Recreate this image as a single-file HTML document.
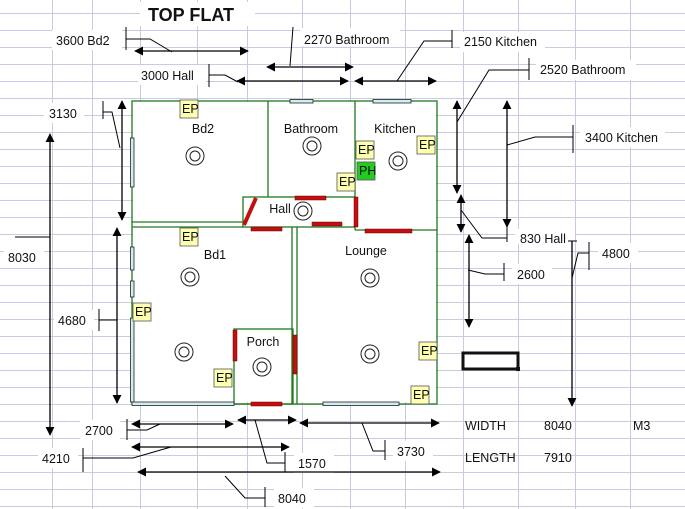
<!DOCTYPE html>
<html><head><meta charset="utf-8"><style>
html,body{margin:0;padding:0;background:#fff;}
svg{display:block;}
text{font-family:"Liberation Sans",Arial,sans-serif;font-size:12.5px;fill:#111;}
</style></head><body>
<svg width="685" height="509" viewBox="0 0 685 509" xmlns="http://www.w3.org/2000/svg">
<defs>
<marker id="a" viewBox="0 0 10 10" refX="9" refY="5" markerWidth="9" markerHeight="9" markerUnits="userSpaceOnUse" orient="auto-start-reverse"><path d="M0,0 L10,5 L0,10 z" fill="#000"/></marker>
</defs>
<g stroke="#c9cce0" stroke-width="1">
<line x1="0" y1="13.5" x2="685" y2="13.5"/><line x1="0" y1="30.5" x2="685" y2="30.5"/><line x1="0" y1="47.5" x2="685" y2="47.5"/><line x1="0" y1="64.5" x2="685" y2="64.5"/><line x1="0" y1="81.5" x2="685" y2="81.5"/><line x1="0" y1="98.5" x2="685" y2="98.5"/><line x1="0" y1="115.5" x2="685" y2="115.5"/><line x1="0" y1="132.5" x2="685" y2="132.5"/><line x1="0" y1="149.5" x2="685" y2="149.5"/><line x1="0" y1="166.5" x2="685" y2="166.5"/><line x1="0" y1="183.5" x2="685" y2="183.5"/><line x1="0" y1="200.5" x2="685" y2="200.5"/><line x1="0" y1="217.5" x2="685" y2="217.5"/><line x1="0" y1="234.5" x2="685" y2="234.5"/><line x1="0" y1="251.5" x2="685" y2="251.5"/><line x1="0" y1="268.5" x2="685" y2="268.5"/><line x1="0" y1="285.5" x2="685" y2="285.5"/><line x1="0" y1="302.5" x2="685" y2="302.5"/><line x1="0" y1="319.5" x2="685" y2="319.5"/><line x1="0" y1="336.5" x2="685" y2="336.5"/><line x1="0" y1="353.5" x2="685" y2="353.5"/><line x1="0" y1="370.5" x2="685" y2="370.5"/><line x1="0" y1="387.5" x2="685" y2="387.5"/><line x1="0" y1="404.5" x2="685" y2="404.5"/><line x1="0" y1="421.5" x2="685" y2="421.5"/><line x1="0" y1="438.5" x2="685" y2="438.5"/><line x1="0" y1="455.5" x2="685" y2="455.5"/><line x1="0" y1="472.5" x2="685" y2="472.5"/><line x1="0" y1="489.5" x2="685" y2="489.5"/><line x1="0" y1="506.5" x2="685" y2="506.5"/>
<line x1="52.5" y1="0" x2="52.5" y2="509"/><line x1="92.5" y1="0" x2="92.5" y2="509"/><line x1="140.5" y1="0" x2="140.5" y2="509"/><line x1="197.5" y1="0" x2="197.5" y2="509"/><line x1="247.5" y1="0" x2="247.5" y2="509"/><line x1="302.5" y1="0" x2="302.5" y2="509"/><line x1="350.5" y1="0" x2="350.5" y2="509"/><line x1="405.5" y1="0" x2="405.5" y2="509"/><line x1="463.5" y1="0" x2="463.5" y2="509"/><line x1="518.5" y1="0" x2="518.5" y2="509"/><line x1="575.5" y1="0" x2="575.5" y2="509"/><line x1="630.5" y1="0" x2="630.5" y2="509"/>
</g>
<!-- white label backgrounds -->
<g fill="#fff">
<rect x="140" y="2" width="115" height="24"/>
<rect x="52" y="30" width="70" height="20"/>
<rect x="300" y="28" width="100" height="18"/>
<rect x="460" y="32" width="85" height="20"/>
<rect x="138" y="65" width="68" height="20"/>
<rect x="536" y="60" width="100" height="20"/>
<rect x="44" y="103" width="40" height="20"/>
<rect x="580" y="127" width="85" height="20"/>
<rect x="515" y="229" width="60" height="15"/>
<rect x="598" y="243" width="40" height="20"/>
<rect x="512" y="264" width="40" height="20"/>
<rect x="4" y="247" width="40" height="20"/>
<rect x="54" y="310" width="40" height="20"/>
<rect x="80" y="420" width="40" height="20"/>
<rect x="38" y="448" width="40" height="20"/>
<rect x="294" y="453" width="40" height="20"/>
<rect x="393" y="441" width="40" height="20"/>
<rect x="274" y="488" width="40" height="20"/>
<rect x="133" y="102" width="303" height="300"/>
</g>
<text x="148" y="21" style="font-size:18px;font-weight:bold">TOP FLAT</text>
<!-- floor plan walls -->
<g stroke="#1e7a1e" stroke-width="1.3" fill="none">
<rect x="132" y="101" width="305" height="303"/>
<line x1="268" y1="101" x2="268" y2="197"/>
<line x1="355" y1="101" x2="355" y2="230"/>
<line x1="355" y1="230" x2="437" y2="230"/>
<line x1="132" y1="222" x2="243" y2="222"/>
<line x1="132" y1="227" x2="243" y2="227"/>
<rect x="243" y="197" width="112" height="30"/>
<line x1="292" y1="227" x2="292" y2="404"/>
<line x1="297" y1="227" x2="297" y2="404"/>
<rect x="234" y="329" width="59" height="75"/>
</g>
<!-- windows -->
<g fill="#cdeff2" stroke="#222" stroke-width="0.8">
<rect x="290" y="99.5" width="23" height="3.5"/>
<rect x="373" y="99.5" width="38" height="3.5"/>
<rect x="130.5" y="138" width="3.5" height="49"/>
<rect x="130.5" y="247" width="3.5" height="23"/>
<rect x="130.5" y="281" width="3.5" height="16"/>
<rect x="130.5" y="318" width="3.5" height="84"/>
<rect x="132" y="402" width="102" height="3.5"/>
<rect x="323" y="402" width="76" height="3.5"/>
</g>
<!-- doors -->
<g fill="#c01010" stroke="#700" stroke-width="0.5">
<rect x="295" y="196" width="31" height="4"/>
<rect x="312" y="222" width="30" height="4"/>
<rect x="251" y="227" width="31" height="4"/>
<rect x="354" y="197" width="4" height="30"/>
<rect x="365" y="229" width="47" height="4"/>
<rect x="233" y="330" width="4" height="31"/>
<rect x="293" y="335" width="4" height="39"/>
<rect x="251" y="402" width="31" height="4"/>
</g>
<line x1="244" y1="225" x2="256" y2="198" stroke="#c01010" stroke-width="4"/>
<!-- lights -->
<g fill="none" stroke="#222" stroke-width="1">
<circle cx="195" cy="156" r="9"/><circle cx="195" cy="156" r="5"/>
<circle cx="312" cy="146" r="9"/><circle cx="312" cy="146" r="5"/>
<circle cx="398" cy="161" r="9"/><circle cx="398" cy="161" r="5"/>
<circle cx="303" cy="211" r="9"/><circle cx="303" cy="211" r="5"/>
<circle cx="190" cy="277" r="9"/><circle cx="190" cy="277" r="5"/>
<circle cx="184" cy="352" r="9"/><circle cx="184" cy="352" r="5"/>
<circle cx="370" cy="278" r="9"/><circle cx="370" cy="278" r="5"/>
<circle cx="370" cy="354" r="9"/><circle cx="370" cy="354" r="5"/>
<circle cx="262" cy="367" r="9"/><circle cx="262" cy="367" r="5"/>
</g>
<!-- EP boxes -->
<g fill="#ffffb0" stroke="#555" stroke-width="0.8">
<rect x="180" y="100" width="18" height="18"/>
<rect x="180" y="228" width="18" height="18"/>
<rect x="133" y="303" width="18" height="18"/>
<rect x="214" y="369" width="18" height="18"/>
<rect x="356" y="141" width="18" height="18"/>
<rect x="337" y="173" width="18" height="18"/>
<rect x="417" y="136" width="18" height="18"/>
<rect x="419" y="342" width="18" height="18"/>
<rect x="411" y="386" width="18" height="18"/>
</g>
<rect x="357" y="162" width="18" height="18" fill="#22cc22" stroke="#555" stroke-width="0.8"/>
<g style="font-size:11px">
<text x="182" y="113">EP</text><text x="182" y="241">EP</text><text x="135" y="316">EP</text><text x="216" y="382">EP</text>
<text x="358" y="154">EP</text><text x="339" y="186">EP</text><text x="419" y="149">EP</text><text x="421" y="355">EP</text><text x="413" y="399">EP</text>
<text x="359" y="175">PH</text>
</g>
<g text-anchor="middle">
<text x="203" y="133">Bd2</text><text x="311" y="133">Bathroom</text><text x="395" y="133">Kitchen</text>
<text x="280" y="213">Hall</text><text x="215" y="259">Bd1</text><text x="366" y="255">Lounge</text><text x="263" y="346">Porch</text>
</g>
<!-- dimension arrows -->
<g stroke="#000" stroke-width="1.3" marker-start="url(#a)" marker-end="url(#a)">
<line x1="135" y1="51" x2="248" y2="51"/>
<line x1="267" y1="67" x2="353" y2="67"/>
<line x1="237" y1="81" x2="348" y2="81"/>
<line x1="355" y1="81" x2="436" y2="81"/>
<line x1="122" y1="101" x2="122" y2="220"/>
<line x1="50" y1="134" x2="50" y2="435"/>
<line x1="117" y1="228" x2="117" y2="403"/>
<line x1="457" y1="101" x2="457" y2="193"/>
<line x1="507" y1="101" x2="507" y2="227"/>
<line x1="461" y1="195" x2="461" y2="232"/>
<line x1="469" y1="235" x2="469" y2="327"/>
<line x1="132" y1="424" x2="233" y2="424"/>
<line x1="238" y1="420" x2="296" y2="420"/>
<line x1="300" y1="423" x2="439" y2="423"/>
<line x1="132" y1="447" x2="289" y2="447"/>
<line x1="138" y1="472" x2="440" y2="472"/>
</g>
<line x1="572" y1="241" x2="572" y2="406" stroke="#000" stroke-width="1.3" marker-end="url(#a)"/>
<line x1="568" y1="241" x2="577" y2="241" stroke="#000" stroke-width="1"/>
<!-- leaders -->
<g stroke="#000" stroke-width="1" fill="none">
<line x1="126" y1="27" x2="126" y2="50"/><polyline points="126,39 150,39 172,52"/>
<line x1="293" y1="27" x2="290" y2="66"/>
<line x1="452" y1="30" x2="452" y2="48"/><polyline points="452,41 424,41 397,81"/>
<line x1="209" y1="64" x2="209" y2="87"/><polyline points="209,75 225,75 238,82"/>
<line x1="529" y1="58" x2="529" y2="80"/><polyline points="529,70 489,70 457,122"/>
<line x1="103" y1="101" x2="103" y2="119"/><polyline points="103,112 112,112 120,148"/>
<line x1="15" y1="237" x2="50" y2="237"/>
<line x1="99" y1="309" x2="99" y2="331"/><line x1="99" y1="320" x2="117" y2="320"/>
<line x1="573" y1="125" x2="573" y2="153"/><polyline points="573,137 535,137 507,145"/>
<line x1="507" y1="227" x2="507" y2="242"/><polyline points="461,210 482,238 507,238"/>
<line x1="504" y1="263" x2="504" y2="281"/><polyline points="468,270 485,274 504,274"/>
<line x1="589" y1="242" x2="589" y2="270"/><polyline points="572,278 578,253 589,253"/>
<line x1="127" y1="419" x2="127" y2="440"/><polyline points="127,430 147,430 160,424"/>
<line x1="285" y1="452" x2="285" y2="472"/><polyline points="255,420 267,463 285,463"/>
<line x1="385" y1="440" x2="385" y2="460"/><polyline points="362,423 373,451 385,451"/>
<line x1="83" y1="448" x2="83" y2="472"/><polyline points="83,458 133,458 171,447"/>
<line x1="265" y1="487" x2="265" y2="507"/><polyline points="225,476 245,498 265,498"/>
</g>
<rect x="463" y="353" width="55" height="16" fill="none" stroke="#111" stroke-width="3"/>
<rect x="516" y="367" width="4" height="4" fill="#111"/>
<!-- labels -->
<text x="56" y="45">3600 Bd2</text>
<text x="304" y="44">2270 Bathroom</text>
<text x="464" y="46">2150 Kitchen</text>
<text x="141" y="80">3000 Hall</text>
<text x="540" y="74">2520 Bathroom</text>
<text x="49" y="118">3130</text>
<text x="585" y="142">3400 Kitchen</text>
<text x="520" y="243">830 Hall</text>
<text x="602" y="258">4800</text>
<text x="517" y="279">2600</text>
<text x="8" y="262">8030</text>
<text x="58" y="325">4680</text>
<text x="85" y="435">2700</text>
<text x="42" y="463">4210</text>
<text x="298" y="468">1570</text>
<text x="397" y="456">3730</text>
<text x="278" y="503">8040</text>
<text x="465" y="430">WIDTH</text>
<text x="544" y="430">8040</text>
<text x="633" y="430">M3</text>
<text x="465" y="462">LENGTH</text>
<text x="544" y="462">7910</text>
</svg>
</body></html>
